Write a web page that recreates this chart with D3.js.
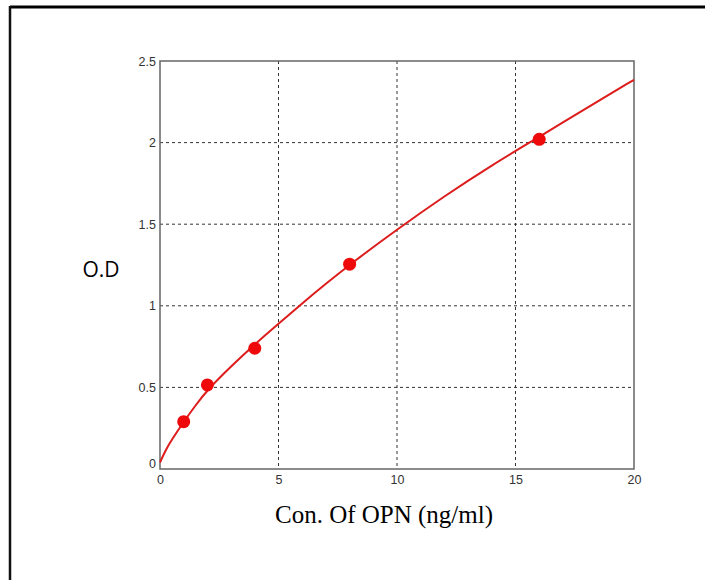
<!DOCTYPE html>
<html>
<head>
<meta charset="utf-8">
<script src="https://cdn.jsdelivr.net/npm/d3@7"></script>
<style>
  html, body { margin: 0; padding: 0; background: #fff; }
  svg { display: block; }
</style>
</head>
<body>
<svg id="chart" width="705" height="580"></svg>
<script>
// Standard points (concentration, optical density)
const concentrations = [1, 2, 4, 8, 16];
const odValues = [0.29, 0.515, 0.74, 1.255, 2.02];

// Fitted standard curve, sampled along the concentration range
const curveX = [0, 0.25, 0.5, 1, 1.5, 2, 3, 4, 5, 6, 7, 8, 10, 12, 14, 16, 18, 20];
const curveY = [0.04, 0.12, 0.18, 0.29, 0.39, 0.485, 0.63, 0.765, 0.89, 1.015, 1.135, 1.252, 1.468, 1.672, 1.862, 2.035, 2.212, 2.385];

const xTicks = [0, 5, 10, 15, 20];
const yTicks = [0, 0.5, 1, 1.5, 2, 2.5];

const svg = d3.select("#chart");

// Frame lines along the top and left edges
svg.append("line").attr("x1", 10).attr("x2", 705).attr("y1", 7).attr("y2", 7)
  .attr("stroke", "#000").attr("stroke-width", 3);
svg.append("line").attr("x1", 10).attr("x2", 10).attr("y1", 6).attr("y2", 580)
  .attr("stroke", "#111").attr("stroke-width", 2.5);

const plotLeft = 160, plotRight = 634, plotTop = 61, plotBottom = 469;
const x = d3.scaleLinear().domain([0, 20]).range([plotLeft, plotRight]);
const y = d3.scaleLinear().domain([0, 2.5]).range([plotBottom, plotTop]);

// Dashed grid
const grid = svg.append("g");
grid.selectAll("line.gx").data(xTicks.filter(v => v > 0 && v < 20)).join("line")
  .attr("x1", d => x(d)).attr("x2", d => x(d)).attr("y1", plotTop).attr("y2", plotBottom)
  .attr("stroke", "#333").attr("stroke-width", 1).attr("stroke-dasharray", "3,3");
grid.selectAll("line.gy").data(yTicks.filter(v => v > 0 && v < 2.5)).join("line")
  .attr("x1", plotLeft).attr("x2", plotRight).attr("y1", d => y(d)).attr("y2", d => y(d))
  .attr("stroke", "#333").attr("stroke-width", 1).attr("stroke-dasharray", "3,3");

// Axes
const xAxis = d3.axisBottom(x).tickValues(xTicks).tickFormat(d3.format("d")).tickSize(0).tickPadding(6);
const yAxis = d3.axisLeft(y).tickValues(yTicks).tickFormat(d => String(d)).tickSize(0).tickPadding(4);

const gx = svg.append("g").attr("transform", `translate(0,${plotBottom})`).call(xAxis);
const gy = svg.append("g").attr("transform", `translate(${plotLeft},0)`).call(yAxis);
[gx, gy].forEach(g => {
  g.attr("font-size", null).attr("font-family", null);
  g.select(".domain").remove();
  g.selectAll("text").attr("font-family", "Liberation Sans, Arial, sans-serif")
    .style("font-size", "12.5px").attr("fill", "#333");
});
gy.selectAll(".tick text").filter(d => d === 0).attr("dy", "-0.15em");

// Plot box
svg.append("rect").attr("x", plotLeft).attr("y", plotTop)
  .attr("width", plotRight - plotLeft).attr("height", plotBottom - plotTop)
  .attr("fill", "none").attr("stroke", "#666").attr("stroke-width", 1.5);

// Fitted curve
const curveData = curveX.map((cx, i) => [cx, curveY[i]]);
svg.append("path").datum(curveData)
  .attr("d", d3.line().x(d => x(d[0])).y(d => y(d[1])).curve(d3.curveBasis))
  .attr("fill", "none").attr("stroke", "#dd1c1c").attr("stroke-width", 2);

// Standard points
svg.selectAll("circle.pt").data(concentrations.map((c, i) => [c, odValues[i]])).join("circle")
  .attr("cx", d => x(d[0])).attr("cy", d => y(d[1])).attr("r", 6.5)
  .attr("fill", "#ee0a0a");

// Axis titles
svg.append("text").attr("x", 101).attr("y", 277).attr("text-anchor", "middle")
  .attr("font-family", "Open Sans, sans-serif").attr("font-size", 21).attr("fill", "#000")
  .text("O.D");
svg.append("text").attr("x", 384).attr("y", 523).attr("text-anchor", "middle")
  .attr("font-family", "Liberation Serif, Times New Roman, serif").attr("font-size", 25).attr("fill", "#000")
  .text("Con. Of OPN (ng/ml)");
</script>
</body>
</html>
